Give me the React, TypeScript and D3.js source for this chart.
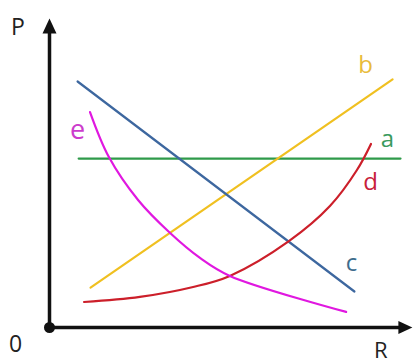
import React from "react";
import * as d3 from "d3";

type Pt = { x: number; y: number };

// Axis domain (arbitrary units for R and P)
const xDomain: [number, number] = [0, 100];
const yDomain: [number, number] = [0, 100];
const xArrowEnd = 100.8;
const yArrowEnd = 103;

// Series
const lineA: Pt[] = [
  { x: 8.1, y: 56.3 },
  { x: 97.5, y: 56.3 },
];
const lineB: Pt[] = [
  { x: 11.4, y: 13.3 },
  { x: 95.3, y: 82.7 },
];
const lineC: Pt[] = [
  { x: 7.8, y: 82 },
  { x: 84.7, y: 12 },
];
const curveD: Pt[] = [
  { x: 9.6, y: 8.5 },
  { x: 25.1, y: 10.2 },
  { x: 39.9, y: 13.5 },
  { x: 50.1, y: 17.2 },
  { x: 66.5, y: 28.8 },
  { x: 77.9, y: 40.5 },
  { x: 85.4, y: 52.5 },
  { x: 89.3, y: 61.2 },
];
const curveE: Pt[] = [
  { x: 11.25, y: 71.8 },
  { x: 16.5, y: 56.8 },
  { x: 24.6, y: 42.5 },
  { x: 33.5, y: 31.5 },
  { x: 41.8, y: 23.2 },
  { x: 50.1, y: 17.2 },
  { x: 82.4, y: 5.2 },
];

const seriesNames = ["a", "b", "c", "d", "e"];
const seriesData = [lineA, lineB, lineC, curveD, curveE];
const lineColors = ["#2f9a4a", "#f0c020", "#3d679f", "#cc1f2a", "#e018e0"];
const labelColors = ["#3a9a5e", "#e8bb3c", "#3e6c8c", "#c8203a", "#cc3ccc"];
const labelAnchors: Pt[] = [
  { x: 93.9, y: 60.3 },
  { x: 87.8, y: 84.7 },
  { x: 83.9, y: 19 },
  { x: 89.2, y: 46 },
  { x: 7.8, y: 63 },
];

const axisLabels = ["P", "R", "0"];

const W = 413;
const H = 358;

export default function App() {
  const x = d3.scaleLinear().domain(xDomain).range([49.5, 409.5]);
  const y = d3.scaleLinear().domain(yDomain).range([327.5, 27.5]);

  const gen = d3
    .line<Pt>()
    .x((d) => x(d.x))
    .y((d) => y(d.y))
    .curve(d3.curveCatmullRom.alpha(0.5));

  const x0 = x(0);
  const y0 = y(0);
  const xt = x(xArrowEnd);
  const yt = y(yArrowEnd);

  const font = "'Open Sans', 'Noto Sans', sans-serif";

  return (
    <svg
      width={W}
      height={H}
      viewBox={`0 0 ${W} ${H}`}
      style={{ position: "absolute", left: 0, top: 0, background: "#fff" }}
    >
      <rect width={W} height={H} fill="#fff" />
      {/* axes */}
      <line x1={x0} y1={y0} x2={xt - 10} y2={y0} stroke="#111" strokeWidth={3.5} />
      <line x1={x0} y1={y0} x2={x0} y2={yt + 12} stroke="#111" strokeWidth={3.5} />
      <path
        d={`M${xt},${y0} L${xt - 14},${y0 - 6.5} L${xt - 14},${y0 + 6.5} Z`}
        fill="#111"
      />
      <path
        d={`M${x0},${yt} L${x0 - 7},${yt + 15} L${x0 + 7},${yt + 15} Z`}
        fill="#111"
      />
      <circle cx={x0} cy={y0} r={5.5} fill="#111" />

      {/* series */}
      {seriesData.map((d, i) => (
        <path
          key={seriesNames[i]}
          d={gen(d) || ""}
          fill="none"
          stroke={lineColors[i]}
          strokeWidth={2.2}
          strokeLinecap="round"
        />
      ))}

      {seriesNames.map((n, i) => (
        <text
          key={"l" + n}
          x={x(labelAnchors[i].x)}
          y={y(labelAnchors[i].y)}
          textAnchor="middle"
          fontFamily={font}
          fontSize={n === "e" ? 27 : 24}
          fill={labelColors[i]}
        >
          {n}
        </text>
      ))}

      {/* axis labels */}
      <text x={11} y={35} fontFamily={font} fontSize={23} fill="#222">
        {axisLabels[0]}
      </text>
      <text x={374} y={357.5} fontFamily={font} fontSize={22} fill="#222">
        {axisLabels[1]}
      </text>
      <text x={9} y={352} fontFamily={font} fontSize={23} fill="#222">
        {axisLabels[2]}
      </text>
    </svg>
  );
}
